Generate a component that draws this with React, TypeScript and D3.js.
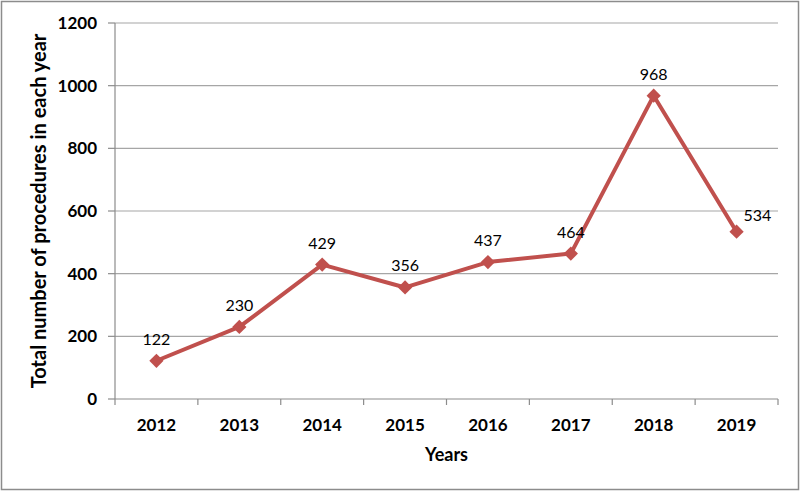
import * as d3 from 'd3'

const years = ['2012', '2013', '2014', '2015', '2016', '2017', '2018', '2019']
const procedures = [122, 230, 429, 356, 437, 464, 968, 534]
const yTicks = [0, 200, 400, 600, 800, 1000, 1200]

const width = 800
const height = 491
const margin = { top: 23, right: 22, bottom: 92, left: 115 }

const lineColor = '#C0504D'
const font = 'Lato, "Open Sans", sans-serif'

function App() {
  const innerWidth = width - margin.left - margin.right
  const innerHeight = height - margin.top - margin.bottom

  const xScale = d3.scaleBand()
    .domain(years)
    .range([0, innerWidth])

  const yScale = d3.scaleLinear()
    .domain([0, 1200])
    .range([innerHeight, 0])

  const cx = (y: string) => (xScale(y) ?? 0) + xScale.bandwidth() / 2

  const path = d3.line<number>()
    .x((_, i) => cx(years[i]))
    .y(d => yScale(d))(procedures)

  const diamond = d3.symbol().type(d3.symbolDiamond2).size(130)()

  return (
    <svg width={width} height={height} style={{ position: 'absolute', left: 0, top: 0 }}>
      <rect x={1.5} y={1.5} width={width - 3} height={height - 3} fill="white" stroke="#8c8c8c" strokeWidth={1.5} />
      <g transform={`translate(${margin.left}, ${margin.top})`}>
        {yTicks.map(t => (
          <g key={t} transform={`translate(0, ${yScale(t)})`}>
            {t > 0 && <line x1={0} x2={innerWidth} stroke="#a6a6a6" strokeWidth={1.2} />}
            <line x1={-7} x2={0} stroke="#8c8c8c" strokeWidth={1.2} />
            <text x={-18} dy="0.35em" textAnchor="end" fontFamily={font} fontWeight="bold" fontSize={17} fill="#000">{t}</text>
          </g>
        ))}
        <line x1={0} x2={0} y1={0} y2={innerHeight} stroke="#8c8c8c" strokeWidth={1.2} />
        <line x1={0} x2={innerWidth} y1={innerHeight} y2={innerHeight} stroke="#8c8c8c" strokeWidth={1.2} />
        {years.map(y => (
          <line key={'t' + y} x1={xScale(y)} x2={xScale(y)} y1={innerHeight} y2={innerHeight + 6} stroke="#8c8c8c" strokeWidth={1.2} />
        ))}
        <line x1={innerWidth} x2={innerWidth} y1={innerHeight} y2={innerHeight + 6} stroke="#8c8c8c" strokeWidth={1.2} />
        {years.map(y => (
          <text key={'l' + y} x={cx(y)} y={innerHeight + 32} textAnchor="middle" fontFamily={font} fontWeight="bold" fontSize={17} fill="#000">{y}</text>
        ))}
        <path d={path ?? ''} fill="none" stroke={lineColor} strokeWidth={4} strokeLinejoin="round" />
        {procedures.map((v, i) => (
          <path key={'m' + i} d={diamond ?? ''} transform={`translate(${cx(years[i])}, ${yScale(v)})`} fill={lineColor} />
        ))}
        {procedures.map((v, i) => {
          const last = i === procedures.length - 1
          return (
            <text key={'d' + i}
              x={cx(years[i]) + (last ? 7 : 0)}
              y={yScale(v) - (last ? 11 : 16)}
              textAnchor={last ? 'start' : 'middle'}
              fontFamily={font} fontSize={16} fill="#000">{v}</text>
          )
        })}
        <text x={innerWidth / 2} y={innerHeight + 62} textAnchor="middle" fontFamily={font} fontWeight="bold" fontSize={18} fill="#000">Years</text>
        <text transform={`translate(${-69}, ${innerHeight / 2}) rotate(-90)`} textAnchor="middle" fontFamily={font} fontWeight="bold" fontSize={20} fill="#000">Total number of procedures in each year</text>
      </g>
    </svg>
  )
}

export default App
